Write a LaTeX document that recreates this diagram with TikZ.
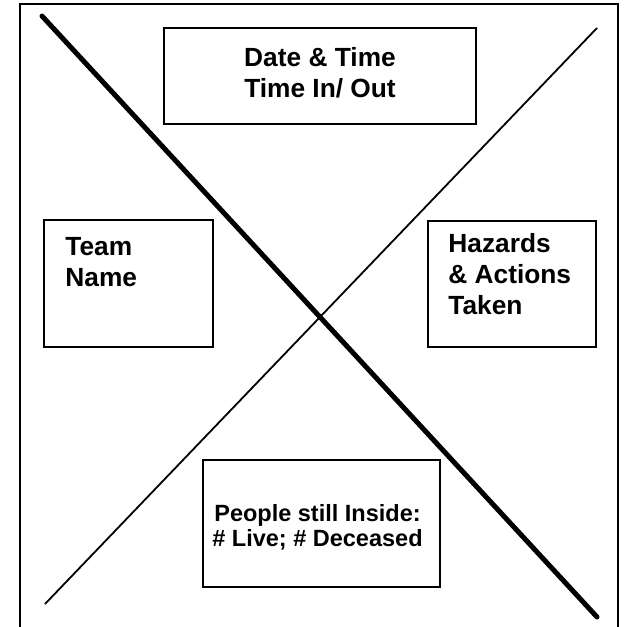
\documentclass[tikz,border=0pt]{standalone}
\usepackage{fontspec}
\setmainfont{Liberation Sans}
\usetikzlibrary{positioning}

\begin{document}
\begin{tikzpicture}[x=1pt,y=-1pt,
    panel/.style={draw,line width=1.6pt,inner sep=0pt},
    boxtext/.style={font=\fontsize{26.3}{31}\selectfont\bfseries,inner sep=0pt},
    smalltext/.style={font=\fontsize{23.5}{25}\selectfont\bfseries,inner sep=0pt}]
  \useasboundingbox (0,0) rectangle (624,627);
  % outer frame, open at the bottom
  \draw[line width=1.5pt] (20,627) -- (20,4) -- (618,4) -- (618,627);
  % the big cross
  \coordinate (tl) at (42,16);
  \coordinate (br) at (597,617);
  \coordinate (tr) at (597,28);
  \coordinate (bl) at (45,604);
  \draw[line width=5pt,line cap=round] (tl) -- (br);
  \draw[line width=1.8pt] (tr) -- (bl);
  % boxes
  \node[panel,fill=white,minimum width=312pt,minimum height=96pt] (datetime) at (320,76) {};
  \node[panel,fill=white,minimum width=169pt,minimum height=127pt] (team) at (128.5,283.5) {};
  \node[panel,fill=white,minimum width=168pt,minimum height=126pt] (hazards) at (512,284) {};
  \node[panel,fill=white,minimum width=237pt,minimum height=127pt] (people) at (321.5,523.5) {};
  % texts
  \node[boxtext,align=center,below=20pt of datetime.north] (datetimetxt) {Date \& Time\\Time In/ Out};
  \node[boxtext,align=left,below right=18pt and 22pt of team.north west] (teamtxt) {Team\\Name};
  \node[boxtext,align=left,below right=13pt and 21pt of hazards.north west] (hazardstxt) {Hazards\\\& Actions\\Taken};
  \node[smalltext,align=center,below=45pt of people.north,xshift=-4pt] (peopletxt) {People still Inside:\\\# Live; \# Deceased};
\end{tikzpicture}
\end{document}
